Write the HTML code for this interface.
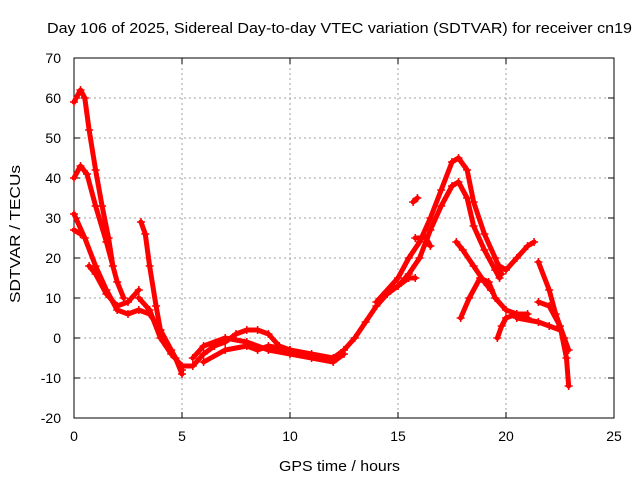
<!DOCTYPE html>
<html><head><meta charset="utf-8"><style>
body{margin:0;background:#fff;}
svg{display:block;font-family:"Liberation Sans",sans-serif;}
</style></head><body>
<svg id="chart" width="640" height="480" viewBox="0 0 640 480">
<rect width="640" height="480" fill="#fff"/>
<g id="grid"></g>
<g id="axes"></g>
<g id="series"></g>
<text x="47" y="33" font-size="15" textLength="585" lengthAdjust="spacingAndGlyphs">Day 106 of 2025, Sidereal Day-to-day VTEC variation (SDTVAR) for receiver cn19</text>
<text x="279" y="471" font-size="15" textLength="121" lengthAdjust="spacingAndGlyphs">GPS time / hours</text>
<text x="20" y="303" font-size="15" textLength="138" lengthAdjust="spacingAndGlyphs" transform="rotate(-90 20 303)">SDTVAR / TECUs</text>
</svg>
<script>
const xTicks=[0,5,10,15,20,25];
const yTicks=[-20,-10,0,10,20,30,40,50,60,70];
const trackA=[[0,59],[0.3,62],[0.5,60],[0.7,52],[1,42],[1.3,33],[1.6,25],[1.8,18]];
const trackB=[[0,40],[0.3,43],[0.6,41],[1,33],[1.5,24],[2,14],[2.3,10]];
const trackC=[[0,31],[0.5,25],[1,18],[1.5,12],[2,7],[2.5,6],[3,7],[3.5,6],[4,2],[4.5,-3],[5,-8]];
const trackD=[[0,27],[0.3,26]];
const trackE=[[0.7,18],[1,16],[1.5,11],[2,8],[2.5,9],[3,12]];
const trackF=[[3.1,29],[3.3,26],[3.5,18],[3.8,8],[4,2],[4.3,-2],[4.7,-5],[5,-9]];
const trackG=[[3,10],[3.5,7],[4,0],[4.5,-4],[5,-7],[5.5,-7],[6,-4],[6.5,-2],[7,-1],[7.5,1],[8,2],[8.5,2],[9,1],[9.5,-2],[10,-3],[11,-4],[12,-5],[12.5,-3],[13,0],[13.5,4],[14,8],[14.5,11],[15,13],[15.5,16],[16,20],[16.5,27],[17,33],[17.5,38],[17.8,39],[18.2,35],[18.5,28],[19,22],[19.5,17],[19.7,15]];
const trackH=[[5.5,-5],[6,-2],[7,0],[8,-1],[9,-3],[10,-4],[11,-5],[12,-6],[12.5,-4]];
const trackI=[[6,-6],[7,-3],[8,-2],[8.5,-3],[9,-2],[10,-3]];
const trackJ=[[14,9],[15,15],[15.5,20],[16,24],[16.5,30],[17,37],[17.5,44],[17.8,45],[18.2,42],[18.5,34],[19,26],[19.5,20],[19.8,16]];
const trackK=[[15,13],[15.5,15],[15.8,15]];
const trackL=[[15.8,25],[16.3,25],[16.5,23]];
const trackM=[[15.7,34],[15.9,35]];
const trackN=[[17.7,24],[18,22],[18.5,18],[19,14],[19.3,12]];
const trackO=[[17.9,5],[18.3,10],[18.8,15],[19.2,14],[19.5,10],[20,7],[20.5,6],[21,5]];
const trackP=[[19.6,0],[19.8,3],[20,5],[20.5,6],[21,6]];
const trackQ=[[19.7,18],[20,17],[20.5,20],[21,23],[21.3,24]];
const trackR=[[21.5,19],[22,12],[22.3,6],[22.7,0],[22.9,-3]];
const trackS=[[21.5,9],[22,8],[22.5,3],[22.8,-5],[22.9,-12]];
const trackT=[[20.5,5],[21.5,4],[22,3],[22.5,2]];
const tracks=[trackA,trackB,trackC,trackD,trackE,trackF,trackG,trackH,trackI,trackJ,trackK,trackL,trackM,trackN,trackO,trackP,trackQ,trackR,trackS,trackT];

const L=74,R=614,T=58,B=418;
const xs=v=>L+(v-0)/(25-0)*(R-L);
const ys=v=>B-(v+20)/(90)*(B-T);
const NS='http://www.w3.org/2000/svg';
function mk(tag,parent,attrs){const e=document.createElementNS(NS,tag);for(const k in attrs)e.setAttribute(k,attrs[k]);parent.appendChild(e);return e;}
const grid=document.getElementById('grid'),axes=document.getElementById('axes'),ser=document.getElementById('series');
xTicks.forEach(t=>{
  const x=xs(t);
  if(t>0&&t<25){const g=mk('line',grid,{x1:x,x2:x,y1:T,y2:B,stroke:'#a0a0a0','stroke-dasharray':'2,3','stroke-width':1});
  
  }
  mk('line',axes,{x1:x,x2:x,y1:B,y2:B-6,stroke:'#000'});
  mk('line',axes,{x1:x,x2:x,y1:T,y2:T+6,stroke:'#000'});
  const tx=mk('text',axes,{x:x,y:B+23,'font-size':14,'text-anchor':'middle'});
  
  
  tx.textContent=t;
});
yTicks.forEach(t=>{
  const y=ys(t);
  if(t>-20&&t<70){const g=mk('line',grid,{x1:L,x2:R,y1:y,y2:y,stroke:'#a0a0a0','stroke-dasharray':'2,3','stroke-width':1});
  
  }
  mk('line',axes,{x1:L,x2:L+6,y1:y,y2:y,stroke:'#000'});
  mk('line',axes,{x1:R,x2:R-6,y1:y,y2:y,stroke:'#000'});
  const tx=mk('text',axes,{x:L-13,y:y+5,'font-size':14,'text-anchor':'end'});
  
  
  tx.textContent=t;
});
const frame=mk('rect',axes,{x:L,y:T,width:R-L,height:B-T,fill:'none',stroke:'#000'});


tracks.forEach(tr=>{
  const p=mk('polyline',ser,{points:tr.map(d=>xs(d[0])+','+ys(d[1])).join(' '),fill:'none',stroke:'#f00','stroke-width':5,'stroke-linejoin':'round','stroke-linecap':'round'});
  
  
  tr.forEach(d=>{
    const x=xs(d[0]),y=ys(d[1]);
    const m=mk('path',ser,{d:`M${x-4},${y}H${x+4}M${x},${y-4}V${y+4}`,stroke:'#f00','stroke-width':1.5});
    
    
  });
});
</script>
</body></html>
